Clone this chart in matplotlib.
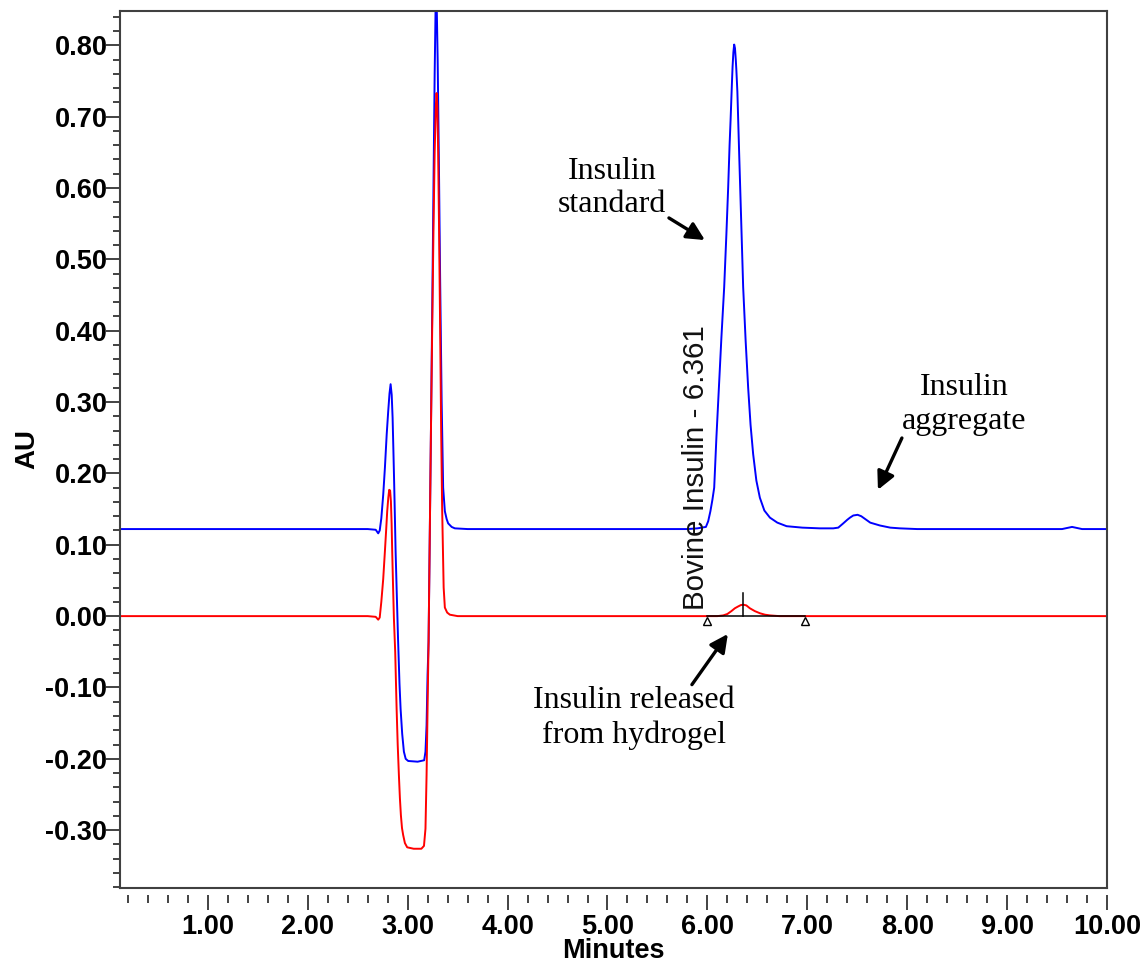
import matplotlib
matplotlib.use("Agg")
import matplotlib.pyplot as plt
from matplotlib.ticker import MultipleLocator, FormatStrFormatter
from matplotlib.lines import Line2D

plt.rcParams["axes.unicode_minus"] = False

# Chromatogram traces (minutes, AU)
std_time = [0.12, 2.60, 2.68, 2.705, 2.72, 2.736, 2.755, 2.772, 2.79, 2.805, 2.818, 2.829,
            2.84, 2.849, 2.857, 2.865, 2.872, 2.879, 2.889, 2.903, 2.918, 2.929, 2.945,
            2.962, 2.98, 3.005, 3.10, 3.165, 3.178, 3.189, 3.199, 3.209, 3.22, 3.232,
            3.245, 3.258, 3.27, 3.28, 3.29, 3.30, 3.312, 3.325, 3.34, 3.355, 3.372,
            3.39, 3.405, 3.44, 3.472, 3.60, 5.80, 5.90, 5.985, 6.008, 6.03, 6.05, 6.068,
            6.09, 6.115, 6.14, 6.168, 6.19, 6.208, 6.222, 6.232, 6.245, 6.252, 6.26, 6.268,
            6.276, 6.284, 6.29, 6.30, 6.318, 6.338, 6.358, 6.383, 6.408, 6.432, 6.458,
            6.49, 6.525, 6.57, 6.626, 6.70, 6.793, 6.95, 7.126, 7.26, 7.31, 7.36, 7.40,
            7.427, 7.46, 7.503, 7.54, 7.58, 7.63, 7.727, 7.83, 7.927, 8.10, 9.55, 9.65,
            9.75, 10.0]
std_au = [0.122, 0.122, 0.121, 0.116, 0.120, 0.137, 0.170, 0.208, 0.255, 0.287, 0.312, 0.325,
          0.310, 0.278, 0.232, 0.184, 0.138, 0.091, 0.040, -0.030, -0.095, -0.130, -0.165,
          -0.190, -0.200, -0.203, -0.204, -0.202, -0.190, -0.153, -0.082, -0.036, 0.100,
          0.250, 0.420, 0.600, 0.760, 0.860, 0.860, 0.780, 0.640, 0.470, 0.300, 0.180,
          0.147, 0.136, 0.130, 0.125, 0.123, 0.122, 0.122, 0.123, 0.125, 0.133, 0.147,
          0.163, 0.180, 0.250, 0.320, 0.390, 0.461, 0.535, 0.601, 0.660, 0.695, 0.745,
          0.770, 0.790, 0.801, 0.796, 0.780, 0.765, 0.735, 0.648, 0.555, 0.461, 0.385,
          0.320, 0.268, 0.227, 0.190, 0.166, 0.148, 0.138, 0.131, 0.126, 0.124, 0.123,
          0.123, 0.124, 0.130, 0.135, 0.138, 0.141, 0.142, 0.140, 0.136, 0.131, 0.127,
          0.124, 0.123, 0.122, 0.122, 0.125, 0.122, 0.122]

rel_time = [0.12, 2.60, 2.68, 2.705, 2.72, 2.736, 2.755, 2.772, 2.785, 2.795, 2.806, 2.815,
            2.824, 2.832, 2.839, 2.845, 2.853, 2.862, 2.875, 2.889, 2.90, 2.912, 2.922,
            2.932, 2.943, 2.955, 2.972, 2.995, 3.06, 3.137, 3.163, 3.178, 3.189, 3.199,
            3.209, 3.22, 3.232, 3.245, 3.258, 3.27, 3.282, 3.289, 3.297, 3.305, 3.315,
            3.325, 3.335, 3.345, 3.36, 3.372, 3.395, 3.422, 3.50, 6.10, 6.158, 6.20, 6.24,
            6.275, 6.307, 6.335, 6.361, 6.39, 6.425, 6.475, 6.526, 6.576, 6.626, 6.72,
            10.0]
rel_au = [0.000, 0.000, -0.001, -0.005, -0.002, 0.020, 0.052, 0.091, 0.122, 0.147, 0.166,
          0.177, 0.176, 0.161, 0.130, 0.091, 0.045, -0.003, -0.050, -0.129, -0.180,
          -0.223, -0.255, -0.279, -0.297, -0.307, -0.318, -0.324, -0.326, -0.326, -0.322,
          -0.298, -0.223, -0.129, -0.036, 0.100, 0.250, 0.400, 0.540, 0.650, 0.715, 0.733,
          0.715, 0.650, 0.530, 0.400, 0.260, 0.150, 0.040, 0.012, 0.005, 0.002, 0.000,
          0.000, 0.001, 0.003, 0.007, 0.011, 0.0135, 0.0155, 0.016, 0.015, 0.011, 0.007,
          0.004, 0.002, 0.001, 0.000, 0.000]

# Integration marks for the released-insulin peak
peak_name = "Bovine Insulin"
peak_rt = 6.361
peak_start = 6.00
peak_end = 6.98

fig = plt.figure(figsize=(11.48, 9.65), dpi=100)
ax = fig.add_axes([0.1045, 0.0798, 0.8598, 0.9088])

ax.plot(std_time, std_au, color="#0000ff", lw=1.4, solid_joinstyle="round")
ax.plot(rel_time, rel_au, color="#ff0000", lw=1.4, solid_joinstyle="round")

# baseline, apex tick and start/end markers
ax.plot([peak_start, peak_end], [0.0, 0.0], color="black", lw=1.1)
ax.plot([peak_rt, peak_rt], [0.0, 0.032], color="black", lw=1.1)
ax.plot([peak_start, peak_end], [-0.0065, -0.0065], ls="none", marker="^",
        markersize=5.5, mfc="white", mec="black", mew=1.0)

ax.text(6.03, 0.009, f"{peak_name} - {peak_rt:.3f}", rotation=90, ha="right", va="bottom",
        fontsize=21.3, family="Liberation Sans", color="#111111")

ax.set_xlim(0.12, 10.0)
ax.set_ylim(-0.381, 0.848)

ax.xaxis.set_major_locator(MultipleLocator(1.0))
ax.xaxis.set_minor_locator(MultipleLocator(0.2))
ax.yaxis.set_major_locator(MultipleLocator(0.1))
ax.yaxis.set_minor_locator(MultipleLocator(0.02))
ax.xaxis.set_major_formatter(FormatStrFormatter("%.2f"))
ax.yaxis.set_major_formatter(FormatStrFormatter("%.2f"))

frame_color = "#404040"
for s in ax.spines.values():
    s.set_color(frame_color)
    s.set_linewidth(1.5)
# x ticks hang slightly below the frame
ax.spines["bottom"].set_position(("outward", 5))
ax.spines["bottom"].set_visible(False)
ax.add_line(Line2D([0, 1], [0, 0], transform=ax.transAxes, color=frame_color, lw=1.5,
                   clip_on=False))

ax.tick_params(axis="both", which="major", direction="out", color="#222222", width=1.2)
ax.tick_params(axis="both", which="minor", direction="out", color="#222222", width=1.2)
ax.tick_params(axis="y", which="major", length=10, pad=-1)
ax.tick_params(axis="y", which="minor", length=5)
ax.tick_params(axis="x", which="major", length=11, pad=2.5)
ax.tick_params(axis="x", which="minor", length=6)

# 0.00 on the x axis is outside the range; keep visible labels only
ax.set_xticks([1, 2, 3, 4, 5, 6, 7, 8, 9, 10])
for lab in ax.get_xticklabels() + ax.get_yticklabels():
    lab.set_fontfamily("Liberation Sans")
    lab.set_fontweight("bold")
    lab.set_fontsize(19.5)

ax.set_xlabel("Minutes", fontsize=19.5, fontweight="bold", family="Liberation Sans",
              labelpad=-1)
ax.set_ylabel("AU", fontsize=20, fontweight="bold", family="Liberation Sans", labelpad=4)

# annotations
serif = dict(family="Liberation Serif", fontsize=23, ha="center", va="center",
             linespacing=1.22, color="black")
arrow = dict(arrowstyle="-|>", color="black", lw=2.4, mutation_scale=27,
             shrinkA=0, shrinkB=0)

ax.text(5.044, 0.6000, "Insulin\nstandard", **serif)
ax.annotate("", xy=(5.975, 0.527), xytext=(5.615, 0.558), arrowprops=arrow)

ax.text(8.568, 0.296, "Insulin\naggregate", **serif)
ax.annotate("", xy=(7.707, 0.177), xytext=(7.947, 0.2496), arrowprops=arrow)

ax.text(5.264, -0.143, "Insulin released\nfrom hydrogel", **serif)
ax.annotate("", xy=(6.205, -0.025), xytext=(5.845, -0.096), arrowprops=arrow)

fig.savefig("out.png", dpi=100)
